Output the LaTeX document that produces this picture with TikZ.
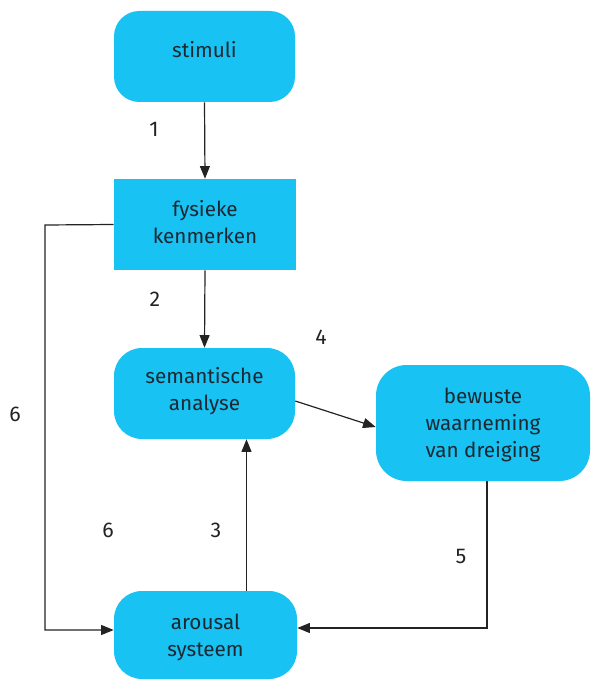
\documentclass[tikz,border=0pt]{standalone}
\usepackage{fontspec}
\setmainfont{Fira Sans}
\usetikzlibrary{arrows.meta}
\definecolor{boxcyan}{RGB}{24,194,242}
\definecolor{txtdark}{RGB}{28,40,50}
\definecolor{numdark}{RGB}{35,35,35}
\begin{document}
\begin{tikzpicture}[x=0.75pt,y=-0.75pt,
  box/.style={fill=boxcyan,draw=none,text=txtdark,align=center,
    font=\fontsize{15.5pt}{20.25pt}\selectfont,inner sep=0pt},
  num/.style={text=numdark,font=\fontsize{16pt}{18pt}\selectfont,inner sep=0pt},
  conn/.style={line width=0.9pt,draw=numdark,-{Triangle[length=9.5pt,width=7.5pt]}}]
\useasboundingbox (0,0) rectangle (590,681);
\node[box,minimum width=135.75pt,minimum height=68.25pt,rounded corners=19pt,text depth=10pt] (stim) at (204.5,56.5) {stimuli};
\node[box,minimum width=136.5pt,minimum height=68.25pt,text depth=4.5pt] (fys) at (205,224.5) {fysieke\\kenmerken};
\node[box,minimum width=135.75pt,minimum height=68.25pt,rounded corners=21pt,text depth=6.5pt] (sem) at (204.5,393.5) {semantische\\analyse};
\node[box,minimum width=160.5pt,minimum height=87pt,rounded corners=23pt,text depth=-9.5pt] (bew) at (483,423) {bewuste\\waarneming\\van dreiging};
\node[box,minimum width=137.25pt,minimum height=66pt,rounded corners=21pt,text depth=0pt] (aro) at (205.5,635) {arousal\\systeem};
\node[num] (n1) at (154,129) {1};
\node[num] (n2) at (155,299) {2};
\node[num] (n4) at (321,337) {4};
\node[num] (n6a) at (15,414) {6};
\node[num] (n6b) at (108,530) {6};
\node[num] (n3) at (216,530) {3};
\node[num] (n5) at (461,556) {5};
\coordinate (fl) at (45,225);
\coordinate (fb) at (45,630);
\coordinate (bb) at (487,628);
\draw[conn] (stim.south) -- (fys.north);
\draw[conn] (fys.south) -- (sem.north);
\draw[conn] (sem.east |- 0,401) -- (bew.west |- 0,427);
\draw[conn] (aro.north -| 246.5,0) -- (sem.south -| 246.5,0);
\draw[conn] (bew.south -| 487,0) -- (bb) -- (aro.east |- bb);
\draw[conn] (fys.west) -- (fl) -- (fb) -- (aro.west |- fb);
\end{tikzpicture}
\end{document}
